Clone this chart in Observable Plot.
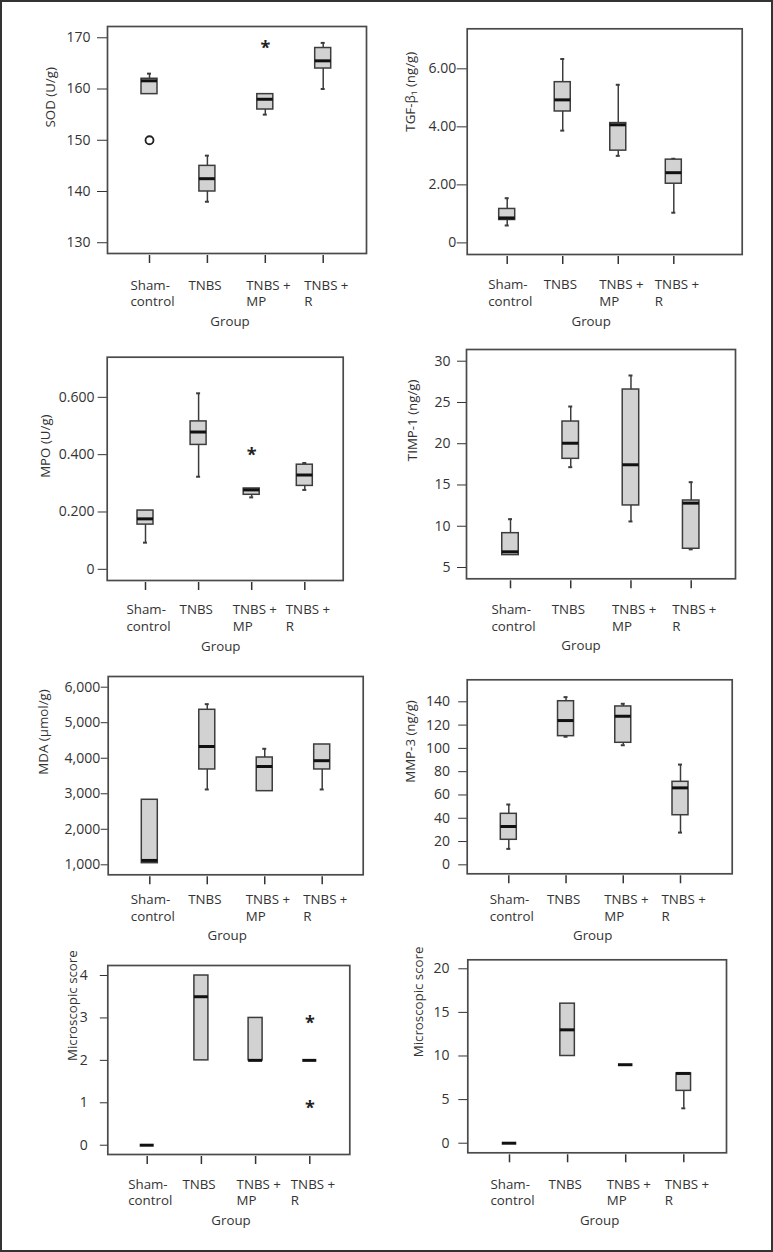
<!DOCTYPE html>
<html><head><meta charset="utf-8">
<script src="https://cdn.jsdelivr.net/npm/d3@7"></script>
<script src="https://cdn.jsdelivr.net/npm/@observablehq/plot@0.6"></script>
<style>
body{margin:0;background:#fff;font-family:"Open Sans",sans-serif;}
#border{position:absolute;left:0;top:0;width:773px;height:1252px;box-sizing:border-box;border:2px solid #333;}
.panel{position:absolute;}
</style></head><body>
<div id="border"></div>
<script>
// ---- data ----
const groups = ["Sham-control", "TNBS", "TNBS + MP", "TNBS + R"];
const groupLabels = ["Sham-\ncontrol", "TNBS", "TNBS +\nMP", "TNBS +\nR"];
const xAxisTitle = "Group";

// each row: [lower whisker, Q1, median, Q3, upper whisker] per group
const sod = [[159, 159, 161.6, 162, 163], [138, 140, 142.5, 145, 147], [155, 156, 158, 159, 159], [160, 164, 165.5, 168, 169]];
const sodCircles = [["Sham-control", 150]];
const sodStars = [["TNBS + MP", 169]];
const sodTicks = [130, 140, 150, 160, 170];
const sodTickLabels = ["130", "140", "150", "160", "170"];

const tgf = [[0.6, 0.79, 0.86, 1.17, 1.54], [3.87, 4.53, 4.93, 5.54, 6.34], [3.0, 3.18, 4.07, 4.13, 5.45], [1.04, 2.04, 2.42, 2.87, 2.9]];
const tgfTicks = [0, 2, 4, 6];
const tgfTickLabels = ["0", "2.00", "4.00", "6.00"];

const mpo = [[0.093, 0.156, 0.176, 0.205, 0.205], [0.323, 0.434, 0.479, 0.516, 0.614], [0.251, 0.26, 0.277, 0.282, 0.282], [0.277, 0.291, 0.329, 0.365, 0.371]];
const mpoStars = [["TNBS + MP", 0.418]];
const mpoTicks = [0, 0.2, 0.4, 0.6];
const mpoTickLabels = ["0", "0.200", "0.400", "0.600"];

const timp = [[6.5, 6.5, 6.9, 9.16, 10.86], [17.16, 18.17, 20.06, 22.69, 24.51], [10.58, 12.52, 17.45, 26.57, 28.27], [7.2, 7.27, 12.8, 13.12, 15.34]];
const timpTicks = [5, 10, 15, 20, 25, 30];
const timpTickLabels = ["5", "10", "15", "20", "25", "30"];

const mda = [[1046, 1046, 1123, 2831, 2831], [3121, 3684, 4331, 5364, 5522], [3073, 3073, 3768, 4021, 4266], [3121, 3684, 3931, 4387, 4387]];
const mdaTicks = [1000, 2000, 3000, 4000, 5000, 6000];
const mdaTickLabels = ["1,000", "2,000", "3,000", "4,000", "5,000", "6,000"];

const mmp = [[13.7, 21.5, 32.9, 43.8, 51.8], [110, 110.5, 123.9, 140.5, 144], [102.7, 104.8, 127.6, 136, 138.3], [27.7, 42.6, 66.1, 71.3, 86.1]];
const mmpTicks = [0, 20, 40, 60, 80, 100, 120, 140];
const mmpTickLabels = ["0", "20", "40", "60", "80", "100", "120", "140"];

const micro1 = [[0, 0, 0, 0, 0], [2, 2, 3.5, 4, 4], [2, 2, 2, 3, 3], [2, 2, 2, 2, 2]];
const micro1Stars = [["TNBS + R", 3], ["TNBS + R", 1]];
const micro1Ticks = [0, 1, 2, 3, 4];
const micro1TickLabels = ["0", "1", "2", "3", "4"];

const micro2 = [[0, 0, 0, 0, 0], [10, 10, 13, 16, 16], [9, 9, 9, 9, 9], [4, 6, 8, 8, 8]];
const micro2Ticks = [0, 5, 10, 15, 20];
const micro2TickLabels = ["0", "5", "10", "15", "20"];

// ---- panel definitions (layout kept separate from data) ----
const panels = [
  {stats: sod, circles: sodCircles, stars: sodStars, ticks: sodTicks, tickLabels: sodTickLabels, yLabel: "SOD (U/g)", yDomain: [127.9, 172.2],
   L: {svg: [2, 4, 382, 336], frame: [107, 26, 366, 253], c0: 149, c3: 322.7, bw: 16, tickSize: 10, gap: 17, yDx: -57, yDy: -12.5, xOff: 29, gOff: 68, gDx: -7}},
  {stats: tgf, circles: [], stars: [], ticks: tgfTicks, tickLabels: tgfTickLabels, yLabel: "TGF-β\u2081 (ng/g)", yDomain: [-0.40, 7.38],
   L: {svg: [386, 4, 385, 336], frame: [466.7, 28.3, 741.7, 254], c0: 506.7, c3: 673.3, bw: 16, tickSize: 10, gap: 11, yDx: -56.7, yDy: -10, xOff: 27.7, gOff: 67.7, gDx: -13.5}},
  {stats: mpo, circles: [], stars: mpoStars, ticks: mpoTicks, tickLabels: mpoTickLabels, yLabel: "MPO (U/g)", yDomain: [-0.039, 0.74],
   L: {svg: [2, 340, 382, 315], frame: [106.7, 356.7, 342.7, 580], c0: 145, c3: 304.3, bw: 16, tickSize: 9, gap: 12.7, yDx: -61.7, yDy: 9, xOff: 26.7, gOff: 66, gDx: -4.4}},
  {stats: timp, circles: [], stars: [], ticks: timpTicks, tickLabels: timpTickLabels, yLabel: "TIMP-1 (ng/g)", yDomain: [3.63, 31.42],
   L: {svg: [386, 340, 385, 315], frame: [466, 349, 735, 578.3], c0: 510, c3: 690.7, bw: 16.5, tickSize: 9, gap: 16, yDx: -53.7, yDy: -3, xOff: 28.4, gOff: 66.7, gDx: -20}},
  {stats: mda, circles: [], stars: [], ticks: mdaTicks, tickLabels: mdaTickLabels, yLabel: "MDA (μmol/g)", yDomain: [719, 6301],
   L: {svg: [2, 655, 382, 290], frame: [107.7, 676, 362.7, 874.3], c0: 149.3, c3: 321.7, bw: 16, tickSize: 7, gap: 8, yDx: -64.4, yDy: -1, xOff: 22.4, gOff: 60.7, gDx: -8.5}},
  {stats: mmp, circles: [], stars: [], ticks: mmpTicks, tickLabels: mmpTickLabels, yLabel: "MMP-3 (ng/g)", yDomain: [-7.7, 158.9],
   L: {svg: [386, 655, 385, 290], frame: [466.7, 679.3, 731.7, 873.3], c0: 508.3, c3: 680, bw: 16, tickSize: 8.5, gap: 17.3, yDx: -56.7, yDy: 6, xOff: 23.4, gOff: 61.7, gDx: -7}},
  {stats: micro1, circles: [], stars: micro1Stars, ticks: micro1Ticks, tickLabels: micro1TickLabels, yLabel: "Microscopic score", yDomain: [-0.219, 4.236],
   L: {svg: [2, 945, 382, 300], frame: [107.3, 965, 349.3, 1154], c0: 146.7, c3: 309.3, bw: 14, tickSize: 7.5, gap: 20, yDx: -34.6, yDy: 1, xOff: 27, gOff: 66, gDx: 2.2}},
  {stats: micro2, circles: [], stars: [], ticks: micro2Ticks, tickLabels: micro2TickLabels, yLabel: "Microscopic score", yDomain: [-1.1, 21.03],
   L: {svg: [386, 945, 385, 300], frame: [467.3, 959.3, 726, 1152.3], c0: 509, c3: 683.3, bw: 14.5, tickSize: 9, gap: 18.3, yDx: -49, yDy: 1, xOff: 28.7, gOff: 68.4, gDx: 2.5}}
];

const INK = "#333";
const BOX_STROKE = "#3c3c3c";
const BOX_FILL = "#d2d2d2";

function render(p) {
  const L = p.L;
  const [sl, st, sw, sh] = L.svg;
  const [fl, ft, fr, fb] = L.frame;
  const step = (L.c3 - L.c0) / 3;
  const pin = 1 - L.bw / step;
  const rows = p.stats.map((s, i) => ({g: groups[i], lo: s[0], q1: s[1], med: s[2], q3: s[3], hi: s[4]}));
  const lowW = rows.filter(d => d.lo < d.q1);
  const highW = rows.filter(d => d.hi > d.q3);
  const boxes = rows.filter(d => d.q3 > d.q1);
  const fmt = new Map(p.ticks.map((t, i) => [t, p.tickLabels[i]]));
  const capInset = L.bw / 2 - 2;

  const chart = Plot.plot({
    width: sw, height: sh,
    marginLeft: fl - sl, marginRight: sl + sw - fr, marginTop: ft - st, marginBottom: st + sh - fb,
    style: {fontFamily: "'Open Sans', sans-serif", fontSize: "13px", color: INK, background: "transparent", overflow: "visible"},
    x: {type: "band", domain: groups, range: [L.c0 - step / 2 - sl, L.c3 + step / 2 - sl], paddingInner: pin, paddingOuter: pin / 2, align: 0.5, round: false, label: null},
    y: {domain: p.yDomain, label: null},
    marks: [
      Plot.ruleX(lowW, {x: "g", y1: "lo", y2: "q1", stroke: BOX_STROKE, strokeWidth: 1.5}),
      Plot.ruleX(highW, {x: "g", y1: "q3", y2: "hi", stroke: BOX_STROKE, strokeWidth: 1.5}),
      Plot.tickY(lowW, {x: "g", y: "lo", insetLeft: capInset, insetRight: capInset, stroke: BOX_STROKE, strokeWidth: 2}),
      Plot.tickY(highW, {x: "g", y: "hi", insetLeft: capInset, insetRight: capInset, stroke: BOX_STROKE, strokeWidth: 2}),
      Plot.barY(boxes, {x: "g", y1: "q1", y2: "q3", fill: BOX_FILL, stroke: BOX_STROKE, strokeWidth: 1.5}),
      Plot.tickY(rows, {x: "g", y: "med", stroke: "#111", strokeWidth: 3}),
      Plot.dot(p.circles, {x: d => d[0], y: d => d[1], r: 4, stroke: "#222", fill: "white", strokeWidth: 1.8}),
      Plot.text(p.stars, {x: d => d[0], y: d => d[1], text: () => "*", fontSize: 18, fontWeight: 700, dy: 5.5, fill: "#222"}),
      Plot.frame({stroke: "#4a4a4a", strokeWidth: 1.7}),
      Plot.axisY({ticks: p.ticks, tickFormat: d => fmt.get(d), tickSize: L.tickSize, tickPadding: Math.max(0.5, L.gap - L.tickSize), label: null, fontSize: 14}),
      Plot.axisX({tickSize: 8, dy: 2, tickFormat: () => "", label: null, strokeWidth: 1.5}),
      Plot.text(groups, {x: d => d, text: groupLabels, frameAnchor: "bottom", lineAnchor: "top", textAnchor: "start", dx: -19, dy: L.xOff - 4.5, lineHeight: 1.23, fontSize: 13.3, fill: INK}),
      Plot.text([p.yLabel], {frameAnchor: "left", rotate: -90, dx: L.yDx, dy: L.yDy, fontSize: 13.3, fill: INK}),
      Plot.text([xAxisTitle], {frameAnchor: "bottom", lineAnchor: "middle", dx: L.gDx, dy: L.gOff, fontSize: 13.3, fill: INK})
    ]
  });
  chart.classList.add("panel");
  chart.style.left = sl + "px";
  chart.style.top = st + "px";
  document.body.appendChild(chart);
}

panels.forEach(render);
</script>
</body></html>
